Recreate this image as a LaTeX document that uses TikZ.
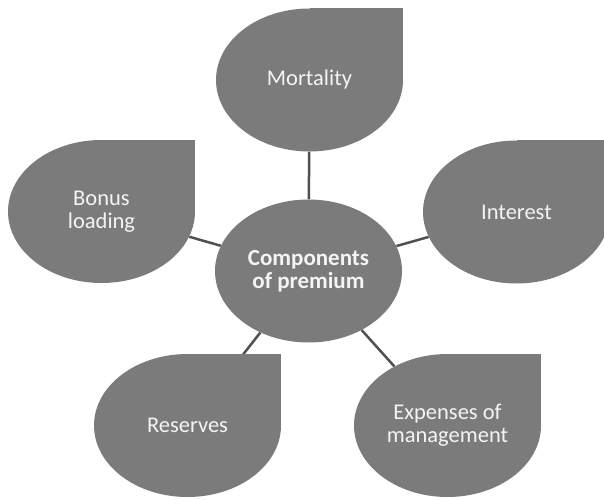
\documentclass[tikz,border=0pt]{standalone}
\usepackage{fontspec}
\setmainfont{Carlito}
\usetikzlibrary{shapes.geometric,backgrounds}
\definecolor{blobgray}{HTML}{7B7B7B}
\definecolor{linegray}{HTML}{505050}
\definecolor{txtwhite}{HTML}{F4F4F4}
\begin{document}
\begin{tikzpicture}[x=1pt,y=1pt,
  blob/.style={ellipse, fill=blobgray, minimum width=187pt, minimum height=143pt,
    inner sep=0pt, text=txtwhite, font=\fontsize{22.5}{23}\selectfont, align=center},
  hub/.style={blob, font=\fontsize{23}{23}\selectfont\bfseries},
  link/.style={draw=linegray, line width=2.5pt},
  corner/.style={fill=blobgray}]
\clip (0,0) rectangle (604,499);
\node[hub]  (c) at (308.5,228) {Components\\of premium};
\node[blob] (m) at (309.5,419) {Mortality};
\node[blob] (b) at (101.5,287.5) {Bonus\\loading};
\node[blob] (i) at (516.5,287) {Interest};
\node[blob] (r) at (187.5,73.5) {Reserves};
\node[blob] (e) at (447.5,73.5) {Expenses of\\management};
\begin{scope}[on background layer]
  \fill[white] (0,0) rectangle (604,499);
  \draw[link] (c) -- (m);
  \draw[link] (c) -- (b);
  \draw[link] (c) -- (i);
  \draw[link] (c) -- (r);
  \draw[link] (c) -- (e);
  \foreach \n in {m,b,i,r,e}
    \fill[corner] (\n.center) rectangle (\n.east |- \n.north);
\end{scope}
\end{tikzpicture}
\end{document}
